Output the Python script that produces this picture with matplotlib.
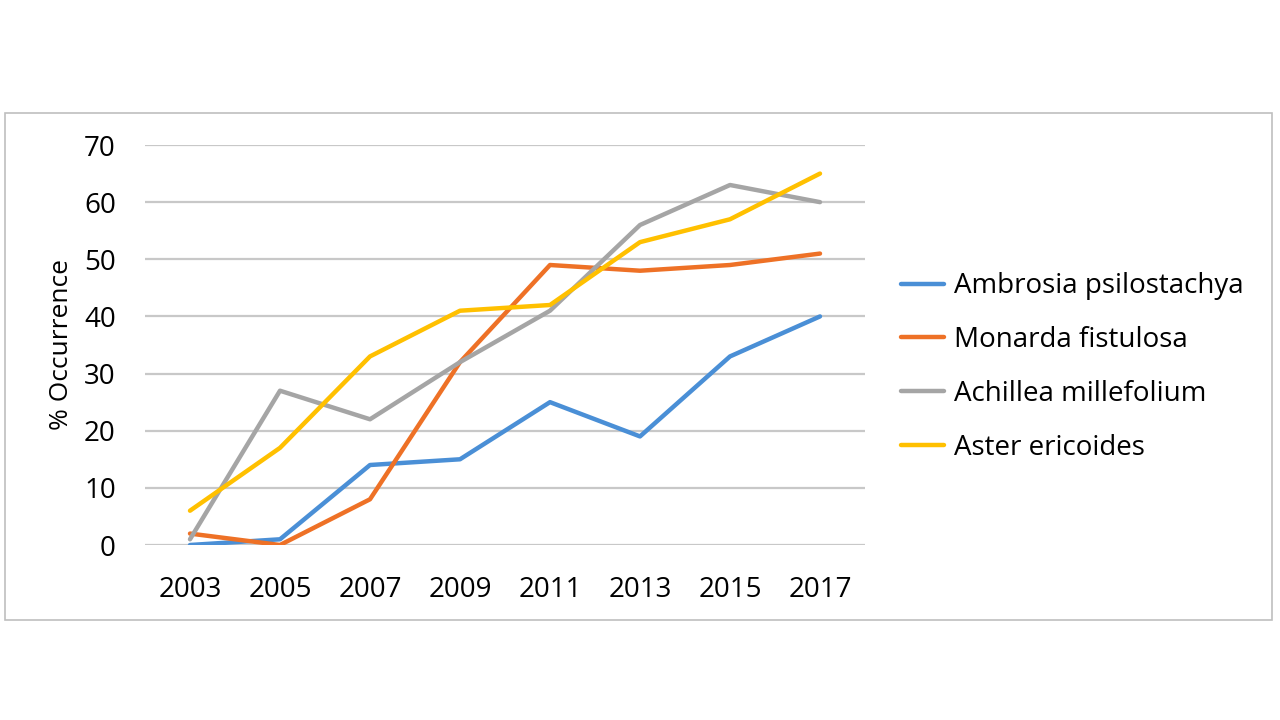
import matplotlib
matplotlib.use("Agg")
import matplotlib.pyplot as plt
from matplotlib.patches import Rectangle

years = ["2003", "2005", "2007", "2009", "2011", "2013", "2015", "2017"]
ambrosia = [0, 1, 14, 15, 25, 19, 33, 40]
monarda = [2, 0, 8, 32, 49, 48, 49, 51]
achillea = [1, 27, 22, 32, 41, 56, 63, 60]
aster = [6, 17, 33, 41, 42, 53, 57, 65]
series_names = ["Ambrosia psilostachya", "Monarda fistulosa",
                "Achillea millefolium", "Aster ericoides"]
colors = ["#4A8FD6", "#EE7126", "#A5A5A5", "#FFC000"]

plt.rcParams['font.family'] = ['Open Sans', 'DejaVu Sans']

fig = plt.figure(figsize=(12.8, 7.2), dpi=100)
W, H = 1280, 720
# outer chart border
fig.patches.append(Rectangle((5 / W, 1 - 620 / H), 1267 / W, 507 / H,
                             transform=fig.transFigure, fill=False,
                             edgecolor="#BFBFBF", linewidth=1.2))

ax = fig.add_axes([145 / W, 1 - 545 / H, 720 / W, 400 / H])
x = list(range(len(years)))
for vals, name, c in zip([ambrosia, monarda, achillea, aster], series_names, colors):
    ax.plot(x, vals, color=c, lw=3.2, label=name, solid_capstyle='round',
            solid_joinstyle='round', zorder=3)

ax.set_xlim(-0.5, len(years) - 0.5)
ax.set_ylim(0, 70)
ax.set_yticks(range(0, 71, 10))
ax.set_xticks(x)
ax.set_xticklabels(years)
ax.grid(axis='y', color="#C8C8C8", lw=1.6, zorder=0)
ax.tick_params(axis='both', length=0, labelsize=20, colors="#000000")
ax.tick_params(axis='y', pad=21)
ax.tick_params(axis='x', pad=22)
for s in ax.spines.values():
    s.set_visible(False)
ax.set_ylabel("% Occurrence", fontsize=19, labelpad=7)

leg = ax.legend(loc='center left', bbox_to_anchor=(901 / W, 1 - 367 / H),
                bbox_transform=fig.transFigure, frameon=False, fontsize=20,
                handlelength=1.55, handletextpad=0.35, labelspacing=0.93,
                borderpad=0, borderaxespad=0)

fig.savefig("out.png", dpi=100)
